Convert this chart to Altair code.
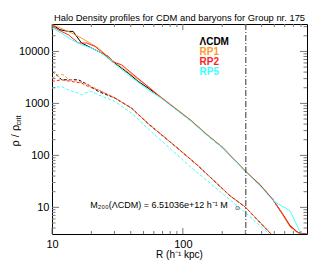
import altair as alt
import pandas as pd

# ---------------- data ----------------
SERIES = ["ΛCDM", "RP1", "RP2", "RP5"]
COLORS = ["#000000", "#FF9A2E", "#FF2424", "#40FFFF"]

# total (solid) density profiles
R_SOLID_LCDM = [10, 11.5, 13.3, 14.5, 16.8, 20.1, 23.9, 26.9, 30.3, 38.2, 45.6, 54.3, 67.1, 84.3, 113.7, 153.3, 203, 299, 389, 489, 583, 659, 746, 800, 880]
RHO_SOLID_LCDM = [33000, 26180, 24290, 24290, 14520, 11630, 9316, 8010, 5977, 3836, 2642, 1972, 1340, 860, 483, 248, 139.5, 50.3, 27.0, 13.9, 7.14, 4.38, 3.36, 3.1, 3.08]

R_SOLID_RP1 = [10, 10.5, 14.1, 16.8, 22.6, 28.5, 36.1, 54.3, 67.1, 84.3, 113.7, 153.3, 203, 299, 389, 489, 583, 659, 746, 800, 880]
RHO_SOLID_RP1 = [32500, 31500, 22620, 18120, 11630, 6918, 4440, 2117, 1360, 875, 490, 252, 141, 51, 27.5, 14.2, 7.0, 4.2, 3.3, 3.1, 3.08]

R_SOLID_RP2 = [10, 11.8, 13.3, 15.9, 18.4, 21.3, 25.4, 28.5, 34.0, 54.3, 67.1, 84.3, 113.7, 153.3, 203, 299, 389, 489, 583, 659, 746, 800, 880]
RHO_SOLID_RP2 = [30320, 24290, 20980, 14520, 14520, 12480, 8640, 6418, 5542, 2088, 1330, 855, 478, 246, 138, 49.5, 27.0, 14.0, 7.3, 4.5, 3.4, 3.12, 3.08]

R_SOLID_RP5 = [10, 11.8, 14.1, 16.8, 20.1, 23.9, 28.5, 38.2, 54.3, 67.1, 84.3, 113.7, 153.3, 203, 299, 389, 489, 525, 659, 786, 840]
RHO_SOLID_RP5 = [28240, 22620, 16810, 13460, 11630, 9316, 6418, 3557, 1828, 1300, 835, 470, 242, 136, 49, 26, 13.5, 12.0, 8.6, 3.4, 2.6]

# baryon (dashed) density profiles
R_DASH_LCDM = [10, 11.2, 11.8, 13.3, 15.9, 18.9, 22.6, 30.3, 40.5, 54.3, 90.5, 130.9, 170.4, 229.6, 299, 464, 515]
RHO_DASH_LCDM = [4118, 3298, 2849, 2849, 2849, 2282, 1696, 1265, 812, 410, 139.5, 62.8, 33.7, 16.6, 10.2, 3.21, 2.46]

R_DASH_RP1 = [10, 11.2, 12.2, 13.3, 15.9, 18.9, 23.9, 30.3, 40.5, 54.3, 90.5, 130.9, 170.4, 229.6, 299, 464, 515]
RHO_DASH_RP1 = [3072, 3557, 3557, 2940, 2642, 2282, 1700, 1270, 815, 415, 141, 63.5, 34.0, 16.8, 10.3, 3.25, 2.46]

R_DASH_RP2 = [10, 11.8, 14.1, 16.8, 18.9, 23.9, 30.3, 40.5, 54.3, 90.5, 130.9, 170.4, 229.6, 299, 464, 515]
RHO_DASH_RP2 = [2642, 2849, 2642, 2461, 2117, 1696, 1265, 812, 404, 139.5, 62.8, 33.7, 16.6, 10.2, 3.21, 2.46]

R_DASH_RP5 = [10, 11.8, 13.3, 15.9, 16.8, 17.9, 20.1, 22.6, 30.3, 40.5, 54.3, 113.7, 229.6, 299, 437.7, 480]
RHO_DASH_RP5 = [1972, 2117, 1828, 1579, 1464, 1579, 1696, 1464, 1088, 650, 326, 60.8, 13.9, 7.97, 3.40, 2.57]

R200 = [303]

X_MAJOR = [10, 100]
X_MINOR = [20, 30, 40, 50, 60, 70, 80, 90, 200, 300, 400, 500, 600, 700, 800]
Y_MAJOR = [10, 100, 1000, 10000]
Y_MINOR = [4, 5, 6, 7, 8, 9, 20, 30, 40, 50, 60, 70, 80, 90,
           200, 300, 400, 500, 600, 700, 800, 900,
           2000, 3000, 4000, 5000, 6000, 7000, 8000, 9000, 20000, 30000]

TITLE = "Halo Density profiles for CDM and baryons for Group nr. 175"
XTITLE = "R (h⁻¹ kpc)"
YTITLE_MAIN = "ρ / ρ"
YTITLE_SUB = "crit"
ANNOT_MAIN = "M₂₀₀(ΛCDM) = 6.51036e+12 h⁻¹ M"
ANNOT_SUN = "⊙"

# ---------------- layout ----------------
W, H = 255, 210
FONT = "Liberation Sans"
TICK_C = "#777777"

XS = alt.Scale(type="log", domain=[10, 889], nice=False)
YS = alt.Scale(type="log", domain=[3.07, 33700], nice=False)
X_AX = alt.Axis(values=X_MAJOR, format="d", ticks=False, domain=False, grid=False,
                labelFontSize=11, labelFont=FONT, labelColor="#000", labelPadding=4,
                labelFlush=False, title=None)
Y_AX = alt.Axis(values=Y_MAJOR, format="d", ticks=False, domain=False, grid=False,
                labelFontSize=11, labelFont=FONT, labelColor="#000", labelPadding=3,
                title=None)


def xenc():
    return alt.X("R:Q", scale=XS, axis=X_AX)


def yenc():
    return alt.Y("rho:Q", scale=YS, axis=Y_AX)


layers = []

solid = [(R_SOLID_LCDM, RHO_SOLID_LCDM), (R_SOLID_RP1, RHO_SOLID_RP1),
         (R_SOLID_RP2, RHO_SOLID_RP2), (R_SOLID_RP5, RHO_SOLID_RP5)]
dashed = [(R_DASH_LCDM, RHO_DASH_LCDM), (R_DASH_RP1, RHO_DASH_RP1),
          (R_DASH_RP2, RHO_DASH_RP2), (R_DASH_RP5, RHO_DASH_RP5)]

for (r, rho), col in zip(solid, COLORS):
    df = pd.DataFrame({"R": r, "rho": rho, "i": range(len(r))})
    layers.append(alt.Chart(df).mark_line(color=col, strokeWidth=1, clip=True).encode(
        x=xenc(), y=yenc(), order="i:Q"))

for (r, rho), col in zip(dashed, COLORS):
    df = pd.DataFrame({"R": r, "rho": rho, "i": range(len(r))})
    layers.append(alt.Chart(df).mark_line(color=col, strokeWidth=1, strokeDash=[3, 2], clip=True).encode(
        x=xenc(), y=yenc(), order="i:Q"))

# R200 line
layers.append(alt.Chart(pd.DataFrame({"R": R200})).mark_rule(
    color="#333333", strokeWidth=1, strokeDash=[6, 2, 1, 2]).encode(x=xenc()))

# ticks (inward, on all four sides)
dfxM = pd.DataFrame({"R": X_MAJOR})
dfxm = pd.DataFrame({"R": X_MINOR})
dfyM = pd.DataFrame({"rho": Y_MAJOR})
dfym = pd.DataFrame({"rho": Y_MINOR})
for dfx, ln in [(dfxM, 6), (dfxm, 3)]:
    layers.append(alt.Chart(dfx).mark_rule(color=TICK_C, strokeWidth=1).encode(
        x=xenc(), y=alt.value(H), y2=alt.value(H - ln)))
    layers.append(alt.Chart(dfx).mark_rule(color=TICK_C, strokeWidth=1).encode(
        x=xenc(), y=alt.value(0), y2=alt.value(ln)))
for dfy, ln in [(dfyM, 7), (dfym, 3.5)]:
    layers.append(alt.Chart(dfy).mark_rule(color=TICK_C, strokeWidth=1).encode(
        y=yenc(), x=alt.value(0), x2=alt.value(ln)))
    layers.append(alt.Chart(dfy).mark_rule(color=TICK_C, strokeWidth=1).encode(
        y=yenc(), x=alt.value(W), x2=alt.value(W - ln)))


def text_layer(txt, x, y, size, color="#000", align="left", angle=0, weight="normal"):
    return alt.Chart(pd.DataFrame({"t": [txt]})).mark_text(
        font=FONT, fontSize=size, color=color, align=align, baseline="alphabetic",
        angle=angle, fontWeight=weight).encode(
        text="t:N", x=alt.value(x), y=alt.value(y))


# title and axis titles
layers.append(text_layer(TITLE, W / 2, -2.8, 9.4, align="center"))
layers.append(text_layer(XTITLE, W / 2, 234, 10, align="center"))
layers.append(text_layer(YTITLE_MAIN, -33.5, 122.5, 11, angle=270))
layers.append(text_layer(YTITLE_SUB, -31.5, 101.5, 7.5, angle=270))

# legend
LEG_Y = [20.5, 30.5, 40.5, 50.5]
for name, col, yy in zip(SERIES, COLORS, LEG_Y):
    layers.append(text_layer(name, 147.5, yy, 10, color=col, weight="bold"))

# annotation
layers.append(text_layer(ANNOT_MAIN, 38.3, 183.7, 9))
layers.append(text_layer(ANNOT_SUN, 182.5, 185.5, 6))

chart = alt.layer(*layers).properties(
    width=W, height=H,
    autosize=alt.AutoSizeParams(type="none"),
    padding={"left": 44, "top": 16, "right": 4, "bottom": 30},
).configure_view(stroke="#000000", strokeWidth=1)

chart.save("out.html", embed_options={"renderer": "svg", "actions": False})
